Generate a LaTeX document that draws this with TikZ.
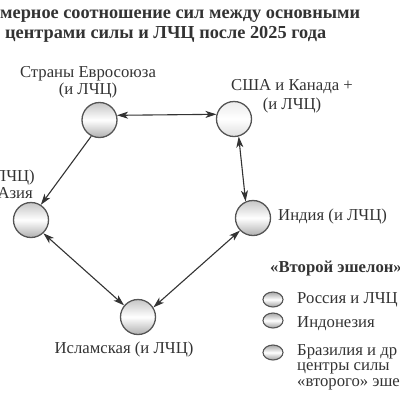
\documentclass[tikz,border=0pt]{standalone}
\usepackage{fontspec}
\setmainfont{Liberation Serif}
\usetikzlibrary{arrows.meta,shapes.geometric}
\definecolor{ink}{HTML}{333333}
\definecolor{rim}{HTML}{555555}
\tikzset{
  ball/.style={circle, draw=rim, line width=1.3pt, minimum size=35pt, inner sep=0pt,
    top color=gray!45, bottom color=gray!62, middle color=white},
  paleball/.style={ball, top color=gray!15, bottom color=gray!25, middle color=white},
  lball/.style={ellipse, draw=rim, line width=1.1pt, minimum width=20pt, minimum height=15pt, inner sep=0pt,
    top color=gray!70, bottom color=gray!75, middle color=white},
  tip/.tip={Stealth[length=11pt,width=7pt,inset=3pt]},
  arr/.style={draw=ink, line width=1.1pt, -tip},
  darr/.style={draw=ink, line width=1.1pt, tip-tip},
  lbl/.style={inner sep=0pt, text=ink, font=\fontsize{16.7}{18}\selectfont},
  ttl/.style={inner sep=0pt, text=ink, font=\fontsize{18.3}{20}\selectfont\bfseries},
}
\begin{document}
\begin{tikzpicture}[x=1pt,y=-1pt]
\useasboundingbox (0,0) rectangle (400,400);
\clip (0,0) rectangle (400,400);
% title
\node[ttl, anchor=base west] (t1) at (0,18.5) {мерное соотношение сил между основными};
\node[ttl, anchor=base west] (t2) at (5,38.3) {центрами силы и ЛЧЦ после 2025 года};
% centres
\node[ball] (eu) at (99.5,120) {};
\node[paleball] (usa) at (234,119) {};
\node[ball] (asia) at (31,220) {};
\node[ball] (ind) at (253,218) {};
\node[ball] (isl) at (138,317) {};
% labels
\node[lbl, anchor=base] (eul1) at (88,77) {Страны Евросоюза};
\node[lbl, anchor=base] (eul2) at (88,94) {(и ЛЧЦ)};
\node[lbl, anchor=base] (usl1) at (292,90) {США и Канада +};
\node[lbl, anchor=base] (usl2) at (292,109) {(и ЛЧЦ)};
\node[lbl, anchor=base east] (asl1) at (35,181) {ЛЧЦ)};
\node[lbl, anchor=base east] (asl2) at (33,198) {Азия};
\node[lbl, anchor=base west] (inl) at (278,220) {Индия (и ЛЧЦ)};
\node[lbl, anchor=base] (isll) at (124,353) {Исламская (и ЛЧЦ)};
% connectors
\draw[darr] (eu.15) -- (usa.165);
\draw[arr] (eu.243) -- (asia.57);
\draw[darr] (asia.313) -- (isl.140);
\draw[darr] (ind.224) -- (isl.32);
\draw[darr] (usa.285) -- (ind.114);
% legend
\node[lbl, font=\fontsize{16.7}{18}\selectfont\bfseries, anchor=base west] (lh) at (270,272) {«Второй эшелон»};
\node[lball] (l1) at (273,299.5) {};
\node[lball] (l2) at (273,320.5) {};
\node[lball] (l3) at (273,352.5) {};
\node[lbl, anchor=base west] (lt1) at (297,303) {Россия и ЛЧЦ};
\node[lbl, anchor=base west] (lt2) at (297,327) {Индонезия};
\node[lbl, anchor=base west, align=left, font=\fontsize{16.7}{15.2}\selectfont] (lt3) at (297,386) {Бразилия и др\\центры силы\\«второго» эше};
\end{tikzpicture}
\end{document}
